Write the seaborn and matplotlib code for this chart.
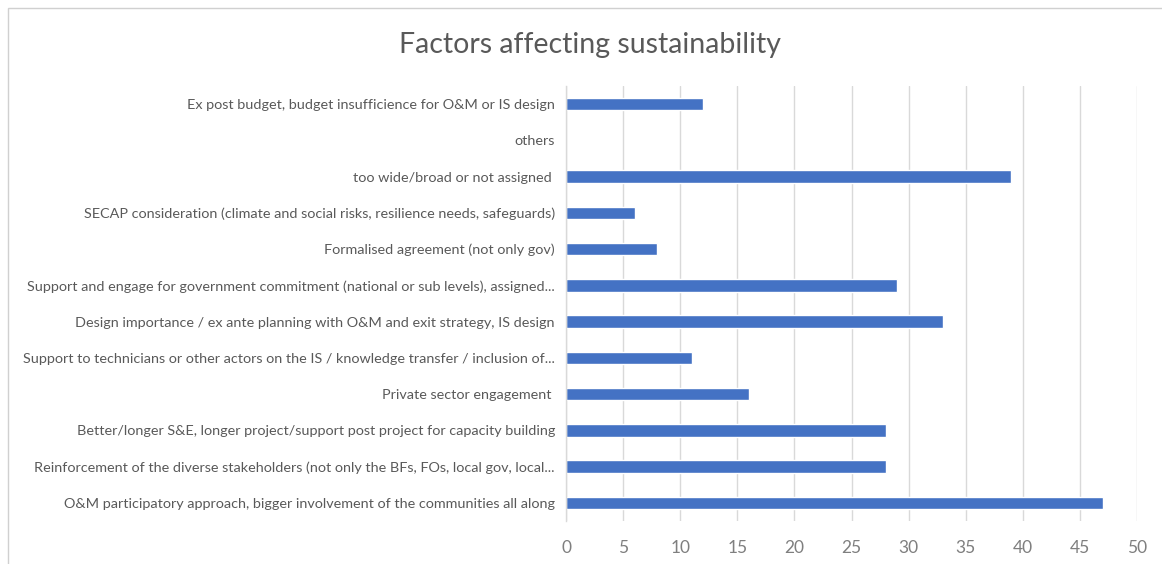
import matplotlib
matplotlib.use("Agg")
import matplotlib.pyplot as plt
import seaborn as sns
import pandas as pd
from matplotlib.patches import Rectangle

categories = [
    "Ex post budget, budget insufficience for O&M or IS design",
    "others",
    "too wide/broad or not assigned ",
    "SECAP consideration (climate and social risks, resilience needs, safeguards)",
    "Formalised agreement (not only gov)",
    "Support and engage for government commitment (national or sub levels), assigned...",
    "Design importance / ex ante planning with O&M and exit strategy, IS design",
    "Support to technicians or other actors on the IS / knowledge transfer / inclusion of...",
    "Private sector engagement ",
    "Better/longer S&E, longer project/support post project for capacity building",
    "Reinforcement of the diverse stakeholders (not only the BFs, FOs, local gov, local...",
    "O&M participatory approach, bigger involvement of the communities all along",
]
values = [12, 0, 39, 6, 8, 29, 33, 11, 16, 28, 28, 47]
x_ticks = [0, 5, 10, 15, 20, 25, 30, 35, 40, 45, 50]
title = "Factors affecting sustainability"

df = pd.DataFrame({"factor": categories, "count": values})

sns.set_theme(style="white")
plt.rcParams["font.family"] = ["Lato", "DejaVu Sans"]

fig = plt.figure(figsize=(11.62, 5.64), dpi=100)
ax = fig.add_axes([566 / 1162, 1 - 521 / 564, (1137 - 566) / 1162, (521 - 86) / 564])

sns.barplot(data=df, y="factor", x="count", order=categories, orient="h",
            color="#4472C4", width=0.34, saturation=1, ax=ax)

ax.set_xlim(0, 50)
ax.set_xticks(x_ticks)
ax.set_xticklabels([str(t) for t in x_ticks], fontsize=12.5, color="#7f7f7f")
ax.tick_params(axis="x", length=0, pad=14)
ax.tick_params(axis="y", length=0, pad=8, labelsize=10.4, labelcolor="#595959")
ax.set_xlabel("")
ax.set_ylabel("")
ax.xaxis.grid(True, color="#d9d9d9", linewidth=1)
ax.set_axisbelow(True)
for s in ["top", "right", "bottom"]:
    ax.spines[s].set_visible(False)
ax.spines["left"].set_color("#d9d9d9")
ax.spines["left"].set_linewidth(1)

fig.text(0.508, 1 - 45 / 564, title, ha="center", va="center", fontsize=20.5, color="#595959")

fig.patches.append(Rectangle((8 / 1162, -0.05), 1.1, 1 - 8 / 564 + 0.05,
                             transform=fig.transFigure, fill=False,
                             edgecolor="#d0d0d0", linewidth=1, zorder=-1))

fig.savefig("out.png", dpi=100, facecolor="white")
